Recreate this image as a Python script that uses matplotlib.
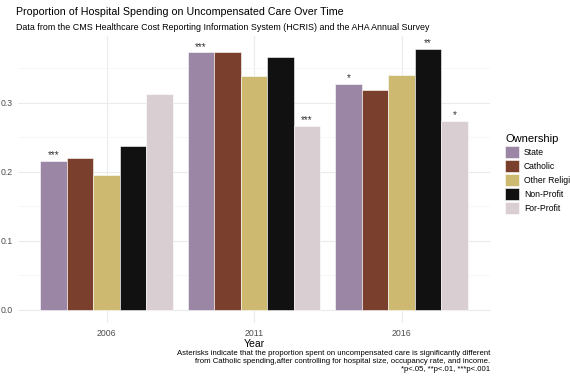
import matplotlib.pyplot as plt
import numpy as np

# proportion spent on uncompensated care
years = ['2006', '2011', '2016']
ownership = ['State', 'Catholic', 'Other Religious', 'Non-Profit', 'For-Profit']
state = [0.216, 0.373, 0.327]
catholic = [0.220, 0.374, 0.318]
other_relig = [0.195, 0.339, 0.340]
non_profit = [0.238, 0.367, 0.378]
for_profit = [0.313, 0.266, 0.274]
stars = [['***', '', '', '', ''],
         ['***', '', '', '', '***'],
         ['*', '', '', '**', '*']]

colores = ['#9b87a5', '#7a402d', '#cdb96f', '#111111', '#d9cfd3']
series = [state, catholic, other_relig, non_profit, for_profit]

plt.rcParams['font.family'] = ['Liberation Sans', 'DejaVu Sans']

fig = plt.figure(figsize=(5.7, 3.8), dpi=100)
W, H = 570, 380
ax = fig.add_axes([18 / W, (H - 323) / H, 472 / W, 287 / H])

x = np.arange(len(years)) + 1
ancho = 0.9 / 5
for i, (vals, c) in enumerate(zip(series, colores)):
    pos = x - 0.45 + ancho * (i + 0.5)
    ax.bar(pos, vals, width=ancho, color=c, edgecolor='white', linewidth=0.4,
           label=ownership[i], zorder=3)
    for j in range(len(years)):
        if stars[j][i]:
            ax.text(pos[j], vals[j] + 0.001, stars[j][i], ha='center', va='bottom',
                    fontsize=7, color='#333333', zorder=4)

ymax = 0.3778 * 1.05
ax.set_xlim(0.4, 3.6)
ax.set_ylim(-0.3778 * 0.05, ymax)
ax.set_xticks(x)
ax.set_xticklabels(years)
ax.set_yticks([0, 0.1, 0.2, 0.3])
ax.set_yticklabels(['0.0', '0.1', '0.2', '0.3'])
ax.set_yticks([0.05, 0.15, 0.25, 0.35], minor=True)
ax.grid(True, which='major', color='#ebebeb', linewidth=0.8, zorder=0)
ax.grid(True, which='minor', axis='y', color='#f4f4f4', linewidth=0.5, zorder=0)
ax.tick_params(axis='both', which='both', length=0, labelsize=6.3, colors='#4d4d4d', pad=4)
for s in ax.spines.values():
    s.set_visible(False)
ax.set_xlabel('Year', fontsize=7.5, labelpad=1)

fig.text(16 / W, 1 - 12 / H, 'Proportion of Hospital Spending on Uncompensated Care Over Time',
         fontsize=7.7, va='center', ha='left')
fig.text(16 / W, 1 - 27 / H, 'Data from the CMS Healthcare Cost Reporting Information System (HCRIS) and the AHA Annual Survey',
         fontsize=6.4, va='center', ha='left')

nota = ('Asterisks indicate that the proportion spent on uncompensated care is significantly different\n'
        'from Catholic spending,after controlling for hospital size, occupancy rate, and income.\n'
        '*p<.05, **p<.01, ***p<.001')
fig.text(490 / W, 1 - 350 / H, nota, fontsize=5.6, ha='right', va='top', linespacing=1.2)

leg = ax.legend(title='Ownership', loc='upper left', bbox_to_anchor=(505 / W, 1 - 134 / H),
                bbox_transform=fig.transFigure, frameon=False, fontsize=6.2,
                title_fontsize=8, handlelength=1.6, handleheight=1.75,
                labelspacing=0.25, handletextpad=0.6, borderpad=0, borderaxespad=0)
leg._legend_box.align = 'left'

fig.savefig('out.png', dpi=100)
